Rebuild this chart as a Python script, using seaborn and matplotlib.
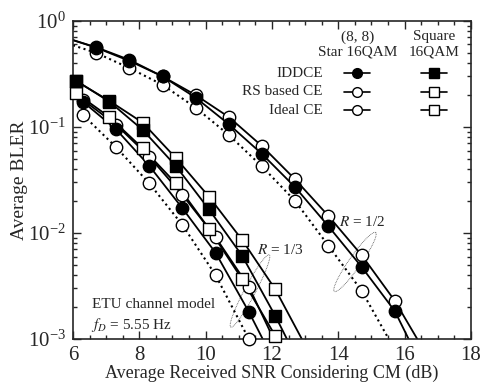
import numpy as np
import pandas as pd
import seaborn as sns
import matplotlib
matplotlib.use("Agg")
import matplotlib.pyplot as plt
from matplotlib.ticker import MultipleLocator, LogLocator, NullFormatter

# R = 1/2, (8, 8) star 16QAM
x_r12 = [6.7, 7.7, 8.7, 9.7, 10.7, 11.7, 12.7, 13.7, 14.7, 15.7]
iddce_r12 = [0.565, 0.43, 0.30, 0.189, 0.106, 0.0556, 0.027, 0.0116, 0.0048, 0.00184]
rs_r12 = [0.56, 0.42, 0.30, 0.20, 0.124, 0.066, 0.032, 0.0145, 0.0062, 0.0023]
x_r12_ideal = [6.7, 7.7, 8.7, 9.7, 10.7, 11.7, 12.7, 13.7, 14.7]
ideal_r12 = [0.50, 0.36, 0.25, 0.152, 0.084, 0.0424, 0.020, 0.0076, 0.00286]

# R = 1/3, (8, 8) star 16QAM
x_r13_star = [6.3, 7.3, 8.3, 9.3, 10.3, 11.3]
iddce_r13_star = [0.173, 0.095, 0.043, 0.0171, 0.0065, 0.00181]
rs_r13_star = [0.18, 0.105, 0.0525, 0.0229, 0.0091, 0.00312]
ideal_r13_star = [0.13, 0.0644, 0.0294, 0.0119, 0.0040, 0.00100]

# R = 1/3, square 16QAM
x_r13_sq = [6.1, 7.1, 8.1, 9.1, 10.1, 11.1, 12.1]
iddce_r13_sq = [0.273, 0.173, 0.094, 0.0429, 0.0167, 0.0061, 0.00165]
rs_r13_sq = [0.27, 0.176, 0.11, 0.051, 0.022, 0.0086, 0.00294]
ideal_r13_sq = [0.208, 0.124, 0.063, 0.0294, 0.011, 0.00366, 0.00107]

# where the curves leave the plot (start at left edge / end at 1e-3)
start_r12 = {"iddce": 0.66, "rs": 0.66, "ideal": 0.59}
end_r12 = {"iddce": 16.12, "rs": 16.38, "ideal": 15.52}
end_r13_star = {"iddce": 11.72, "rs": 12.05}
end_r13_sq = {"iddce": 12.45, "rs": 12.9, "ideal": 12.2}

sns.set_style("ticks")
plt.rcParams["font.family"] = ["Liberation Serif", "DejaVu Serif"]
plt.rcParams["mathtext.fontset"] = "stix"
plt.rcParams["xtick.direction"] = "in"
plt.rcParams["ytick.direction"] = "in"

fig = plt.figure(figsize=(4.85, 3.9), dpi=100)
ax = fig.add_axes([0.1505, 0.1308, 0.8206, 0.8154])
ax.set_yscale("log")

curves = []
# lines: (x, y, style)
curves.append(([6.0] + x_r12 + [end_r12["iddce"]], [start_r12["iddce"]] + iddce_r12 + [1e-3], "-"))
curves.append(([6.0] + x_r12 + [end_r12["rs"]], [start_r12["rs"]] + rs_r12 + [1e-3], "-"))
curves.append(([6.0] + x_r12_ideal + [end_r12["ideal"]], [start_r12["ideal"]] + ideal_r12 + [1e-3], ":"))
curves.append((x_r13_star + [end_r13_star["iddce"]], iddce_r13_star + [1e-3], "-"))
curves.append((x_r13_star + [end_r13_star["rs"]], rs_r13_star + [1e-3], "-"))
curves.append((x_r13_star, ideal_r13_star, ":"))
curves.append((x_r13_sq + [end_r13_sq["iddce"]], iddce_r13_sq + [1e-3], "-"))
curves.append((x_r13_sq + [end_r13_sq["rs"]], rs_r13_sq + [1e-3], "-"))
curves.append((x_r13_sq + [end_r13_sq["ideal"]], ideal_r13_sq + [1e-3], "-"))

for xs, ys, ls in curves:
    df = pd.DataFrame({"x": xs, "y": ys})
    lw = 1.3 if ls == "-" else 1.5
    sns.lineplot(data=df, x="x", y="y", sort=False, color="black", lw=lw,
                 linestyle=ls, ax=ax, zorder=2)

# markers: (x, y, marker, filled)
marks = [
    (x_r12_ideal, ideal_r12, "o", False),
    (x_r12, rs_r12, "o", False),
    (x_r12, iddce_r12, "o", True),
    (x_r13_star, ideal_r13_star, "o", False),
    (x_r13_star, rs_r13_star, "o", False),
    (x_r13_star, iddce_r13_star, "o", True),
    (x_r13_sq, ideal_r13_sq, "s", False),
    (x_r13_sq, rs_r13_sq, "s", False),
    (x_r13_sq, iddce_r13_sq, "s", True),
]
for xs, ys, mk, filled in marks:
    df = pd.DataFrame({"x": xs, "y": ys})
    sns.scatterplot(data=df, x="x", y="y", marker=mk, s=80 if mk == "o" else 70,
                    color="black" if filled else "white", edgecolor="black",
                    linewidth=1.0, ax=ax, zorder=3, clip_on=False)

ax.set_xlim(6, 18)
ax.set_ylim(1e-3, 1)
ax.xaxis.set_major_locator(MultipleLocator(2))
ax.xaxis.set_minor_locator(MultipleLocator(0.5))
ax.yaxis.set_major_locator(LogLocator(base=10))
ax.yaxis.set_minor_locator(LogLocator(base=10, subs=np.arange(2, 10)))
ax.yaxis.set_minor_formatter(NullFormatter())
ax.tick_params(which="both", top=True, right=True, labelsize=15, width=1.0)
ax.tick_params(which="major", length=6, pad=5)
ax.tick_params(which="minor", length=3)
for sp in ax.spines.values():
    sp.set_linewidth(1.2)
ax.set_xlabel("Average Received SNR Considering CM (dB)", fontsize=13, labelpad=0)
ax.set_ylabel("Average BLER", fontsize=14, labelpad=0)

# legend table drawn by hand
fs = 11
ax.text(0.716, 0.95, "(8, 8)", transform=ax.transAxes, ha="center", va="center", fontsize=fs)
ax.text(0.716, 0.903, "Star 16QAM", transform=ax.transAxes, ha="center", va="center", fontsize=fs)
ax.text(0.907, 0.95, "Square", transform=ax.transAxes, ha="center", va="center", fontsize=fs)
ax.text(0.907, 0.903, "16QAM", transform=ax.transAxes, ha="center", va="center", fontsize=fs)
rows = ["IDDCE", "RS based CE", "Ideal CE"]
row_y = [0.836, 0.777, 0.72]
for lab, yy, fill in zip(rows, row_y, ["black", "white", "white"]):
    ax.text(0.628, yy, lab, transform=ax.transAxes, ha="right", va="center", fontsize=fs)
    for cx, mk in [(0.713, "o"), (0.907, "s")]:
        ax.plot([cx - 0.033, cx + 0.033], [yy, yy], color="black", lw=1.2,
                transform=ax.transAxes, clip_on=False)
        ax.plot([cx], [yy], marker=mk, ms=7 if mk == "o" else 6.5, mfc=fill, mec="black",
                mew=1.0, transform=ax.transAxes, clip_on=False)

ax.text(0.726, 0.368, "$R$ = 1/2", transform=ax.transAxes, ha="center", va="center", fontsize=fs)
ax.text(0.462, 0.28, "$R$ = 1/3", transform=ax.transAxes, ha="left", va="center", fontsize=fs)
ax.text(0.048, 0.107, "ETU channel model", transform=ax.transAxes, ha="left", va="center", fontsize=fs)
ax.text(0.045, 0.044, "$f_D$ = 5.55 Hz", transform=ax.transAxes, ha="left", va="center", fontsize=fs)

# thin dotted ellipses grouping the curves of each rate (axes pixels -> fraction)
W, H = 398.0, 318.0
t = np.linspace(0, 2 * np.pi, 200)
for cx, cy, a, b, ang in [(177, 48, 41, 5.5, 62), (282, 77, 36, 6, 55)]:
    th = np.deg2rad(ang)
    px = cx + a * np.cos(t) * np.cos(th) - b * np.sin(t) * np.sin(th)
    py = cy + a * np.cos(t) * np.sin(th) + b * np.sin(t) * np.cos(th)
    ax.plot(px / W, py / H, color="#555555", lw=0.6, ls=(0, (1, 1)),
            transform=ax.transAxes, zorder=1)

fig.savefig("out.png", dpi=100)
